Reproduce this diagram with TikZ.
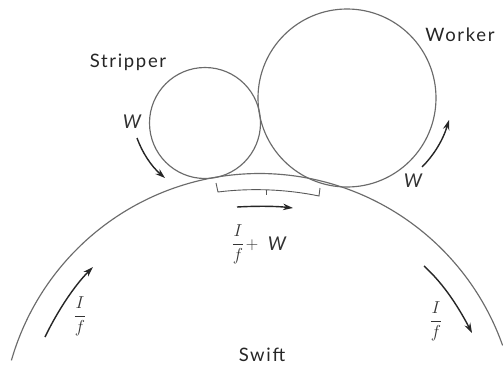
\documentclass[tikz,border=0pt]{standalone}
\usepackage{fontspec}
\setmainfont{Lato}[LetterSpace=9]
\usetikzlibrary{arrows.meta}
\tikzset{
  wheel/.style={draw=black!58,line width=1.15pt},
  flow/.style={draw=black!85,line width=1.4pt,-{Stealth[length=10pt,width=6.5pt]}},
  lab/.style={inner sep=0pt,font=\fontsize{18.5}{20}\selectfont,text=black!85},
  wlab/.style={inner sep=0pt,font=\fontsize{19}{20}\selectfont\itshape,text=black!80},
  frac/.style={inner sep=0pt,font=\fontsize{18}{20}\selectfont,text=black!80}
}
\begin{document}
\begin{tikzpicture}[x=1pt,y=-1pt]
\useasboundingbox (0,0) rectangle (503,367);
\fill[white] (0,0) rectangle (503,367);
% rollers
\draw[wheel] (205,123) circle[radius=55.5];
\draw[wheel] (347,98) circle[radius=89];
% swift
\draw[wheel] plot[domain=19.5:164,samples=80,smooth] ({259.4+258*cos(\x)},{431.5-258*sin(\x)});
% bracket
\draw[draw=black!65,line width=.9pt] (216,183) -- (218,192) .. controls (250,188) and (285,189) .. (319,196) -- (320,188);
\draw[draw=black!65,line width=.7pt] (266.5,189.5) -- (266.5,195);
% arrows
\coordinate (a1) at (137,138); \coordinate (a2) at (165,178);
\draw[flow] (a1) .. controls (142,152) and (151,166) .. (a2);
\coordinate (b1) at (422,167); \coordinate (b2) at (449,120);
\draw[flow] (b1) .. controls (434,155) and (443,140) .. (b2);
\coordinate (c1) at (237,207); \coordinate (c2) at (293,208);
\draw[flow] (c1) .. controls (255,206) and (275,206) .. (c2);
\coordinate (d1) at (45,337); \coordinate (d2) at (93,267);
\draw[flow] (d1) .. controls (58,310) and (75,285) .. (d2);
\coordinate (e1) at (424,266); \coordinate (e2) at (472,333);
\draw[flow] (e1) .. controls (445,285) and (460,310) .. (e2);
% labels
\node[lab] (stripper) at (128,62) {Stripper};
\node[lab] (worker) at (460,35) {Worker};
\node[lab] (swift) at (262,355) {Swift};
\node[wlab] (w1) at (132,122) {W};
\node[wlab] (w2) at (413,181) {W};
\node[wlab] (w3) at (277,244) {W};
\node[frac] (f1) at (80,316) {$\displaystyle\frac{I}{f}$};
\node[frac] (f2) at (436,321) {$\displaystyle\frac{I}{f}$};
\node[frac] (f3) at (238,244) {$\displaystyle\frac{I}{f}$};
\node[frac] (plus) at (252,245) {$+$};
\end{tikzpicture}
\end{document}
